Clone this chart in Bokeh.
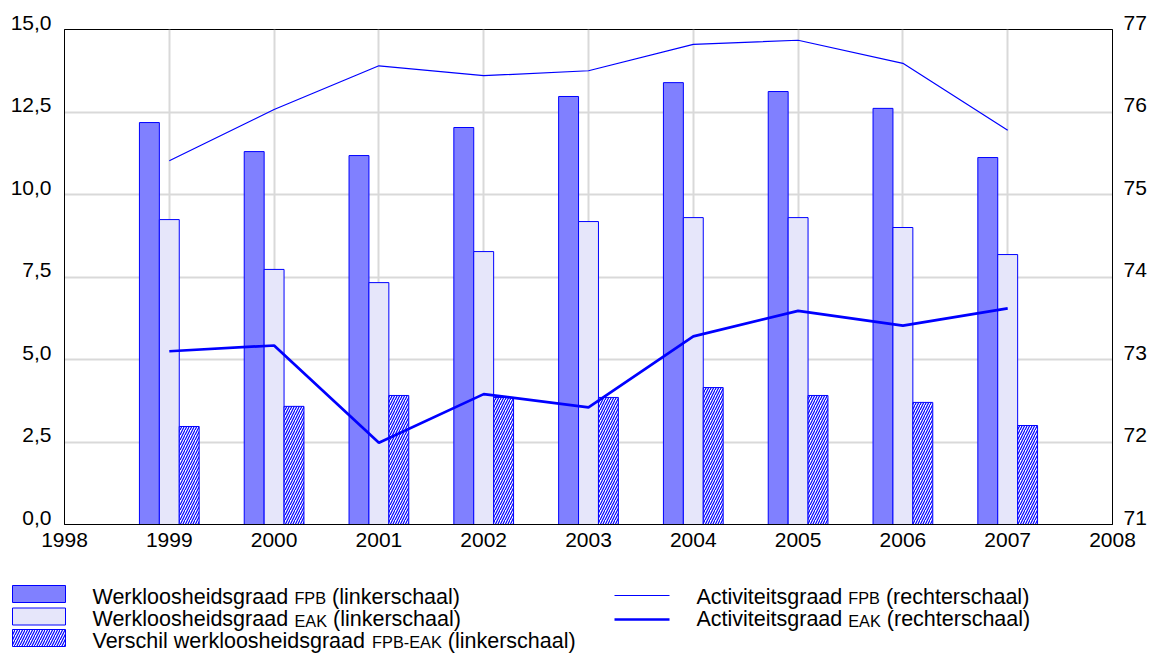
from bokeh.plotting import figure
from bokeh.models import Range1d, LinearAxis, FixedTicker, ColumnDataSource
from bokeh.transform import dodge
from bokeh.core.properties import value
from bokeh.embed import file_html
from bokeh.resources import INLINE

# ---------------- data ----------------
years = [1999, 2000, 2001, 2002, 2003, 2004, 2005, 2006, 2007]
werkloos_fpb = [12.18, 11.30, 11.18, 12.03, 12.97, 13.39, 13.12, 12.61, 11.12]
werkloos_eak = [9.24, 7.73, 7.33, 8.27, 9.18, 9.30, 9.30, 9.00, 8.18]
verschil = [2.97, 3.58, 3.91, 3.85, 3.85, 4.15, 3.91, 3.70, 3.00]
activiteit_fpb = [75.41, 76.03, 76.56, 76.44, 76.50, 76.82, 76.87, 76.59, 75.78]
activiteit_eak = [73.10, 73.17, 71.99, 72.58, 72.42, 73.28, 73.59, 73.41, 73.62]

x_ticks = [1998, 1999, 2000, 2001, 2002, 2003, 2004, 2005, 2006, 2007, 2008]
x_tick_labels = ["1998", "1999", "2000", "2001", "2002", "2003", "2004", "2005", "2006", "2007", "2008"]
left_ticks = [0.0, 2.5, 5.0, 7.5, 10.0, 12.5, 15.0]
left_tick_labels = ["0,0", "2,5", "5,0", "7,5", "10,0", "12,5", "15,0"]
right_ticks = [71, 72, 73, 74, 75, 76, 77]
right_tick_labels = ["71", "72", "73", "74", "75", "76", "77"]

legend_left = [
    [("Werkloosheidsgraad", False), ("FPB", True), ("(linkerschaal)", False)],
    [("Werkloosheidsgraad", False), ("EAK", True), ("(linkerschaal)", False)],
    [("Verschil werkloosheidsgraad", False), ("FPB-EAK", True), ("(linkerschaal)", False)],
]
legend_right = [
    [("Activiteitsgraad", False), ("FPB", True), ("(rechterschaal)", False)],
    [("Activiteitsgraad", False), ("EAK", True), ("(rechterschaal)", False)],
]

# ---------------- style ----------------
FONT = "Liberation Sans"
FS = 21
FS_LEG = 21.5
FS_SMALL = 16.3
BLUE = "#0000FF"
FILL_FPB = "#8080FF"
FILL_EAK = "#E6E6FA"
GRID = "#D9D9D9"
BW = 0.19

src = ColumnDataSource(dict(year=years, fpb=werkloos_fpb, eak=werkloos_eak, diff=verschil,
                            afpb=activiteit_fpb, aeak=activiteit_eak))

p = figure(frame_width=1048, frame_height=495,
           x_range=Range1d(1998, 2008), y_range=Range1d(0, 15),
           output_backend="svg", toolbar_location=None,
           min_border_left=64, min_border_right=45, min_border_top=29, min_border_bottom=46,
           outline_line_color="black", outline_line_width=1)
p.extra_y_ranges = {"right": Range1d(71, 77)}

# grid
p.xgrid.ticker = FixedTicker(ticks=x_ticks)
p.ygrid.ticker = FixedTicker(ticks=left_ticks)
for g in (p.xgrid, p.ygrid):
    g.grid_line_color = GRID
    g.grid_line_width = 2

def style_axis(ax):
    ax.major_tick_line_color = None
    ax.minor_tick_line_color = None
    ax.major_tick_in = 0
    ax.major_tick_out = 0
    ax.minor_tick_in = 0
    ax.minor_tick_out = 0
    ax.axis_line_color = "black"
    ax.axis_line_width = 1
    ax.major_label_text_font = FONT
    ax.major_label_text_font_size = f"{FS}px"
    ax.major_label_text_color = "black"

xa = p.xaxis[0]
xa.ticker = FixedTicker(ticks=x_ticks)
xa.major_label_overrides = {t: l for t, l in zip(x_ticks, x_tick_labels)}
style_axis(xa)
xa.major_label_standoff = 8

# y axes: the reference puts each label's baseline on its gridline; an empty
# second line with a tight line height lifts the (middle-aligned) label accordingly
ya = p.yaxis[0]
ya.ticker = FixedTicker(ticks=left_ticks)
ya.major_label_overrides = {t: l + "\n" for t, l in zip(left_ticks, left_tick_labels)}
style_axis(ya)
ya.major_label_text_line_height = 0.62
ya.major_label_standoff = 13

ra = LinearAxis(y_range_name="right", ticker=FixedTicker(ticks=right_ticks))
ra.major_label_overrides = {t: l + "\n" for t, l in zip(right_ticks, right_tick_labels)}
style_axis(ra)
ra.major_label_text_line_height = 0.62
ra.major_label_standoff = 11
p.add_layout(ra, "right")

# bars
p.vbar(x=dodge("year", -BW, range=p.x_range), top="fpb", width=BW, source=src,
       fill_color=FILL_FPB, line_color=BLUE, line_width=1)
p.vbar(x=dodge("year", 0, range=p.x_range), top="eak", width=BW, source=src,
       fill_color=FILL_EAK, line_color=BLUE, line_width=1)
p.vbar(x=dodge("year", BW, range=p.x_range), top="diff", width=BW, source=src,
       fill_color="white", line_color=BLUE, line_width=1,
       hatch_pattern="/", hatch_color=BLUE, hatch_scale=5, hatch_weight=1.2)

# lines
p.line(x="year", y="afpb", source=src, y_range_name="right", line_color=BLUE, line_width=1.2)
p.line(x="year", y="aeak", source=src, y_range_name="right", line_color=BLUE, line_width=2.7)

# ---------------- legend (separate figure, coordinates = page pixels) ----------------
lg = figure(frame_width=1157, frame_height=83, x_range=Range1d(0, 1157), y_range=Range1d(653, 570),
            output_backend="svg", toolbar_location=None, x_axis_type=None, y_axis_type=None,
            min_border=0, outline_line_color=None)
lg.xgrid.visible = False
lg.ygrid.visible = False

W = {" ": 278, "(": 333, ")": 333, "-": 333, "A": 667, "B": 667, "E": 667, "F": 611, "K": 667,
     "P": 667, "V": 667, "W": 944, "a": 556, "c": 500, "d": 556, "e": 556, "g": 556, "h": 556,
     "i": 222, "k": 500, "l": 222, "n": 556, "o": 556, "r": 333, "s": 500, "t": 278, "v": 500,
     "w": 722}

def tw(s, size):
    return sum(W.get(c, 556) for c in s) * size / 1000.0

def layout_row(pieces, x0, y):
    big = dict(x=[], y=[], t=[])
    small = dict(x=[], y=[], t=[])
    x = x0
    for txt, sc in pieces:
        d = small if sc else big
        d["x"].append(x); d["y"].append(y); d["t"].append(txt)
        x += tw(txt, FS_SMALL if sc else FS_LEG)
        x += tw(" ", FS_LEG)
    return big, small

centers = [596, 618.5, 640]        # vertical centre of the capitals of each row
BIG = dict(x=[], y=[], t=[])
SMALL = dict(x=[], y=[], t=[])
for rows, x0 in ((legend_left, 92), (legend_right, 696)):
    for row, yc in zip(rows, centers):
        b, s = layout_row(row, x0, yc)
        for k in BIG:
            BIG[k] += b[k]
            SMALL[k] += s[k]

lg.text(x=BIG["x"], y=BIG["y"], text=BIG["t"], text_font=value(FONT), text_font_size=f"{FS_LEG}px",
        text_baseline="middle", text_align="left", text_color="black")
lg.text(x=SMALL["x"], y=[v + 1.5 for v in SMALL["y"]], text=SMALL["t"], text_font=value(FONT),
        text_font_size=f"{FS_SMALL}px", text_baseline="middle", text_align="left", text_color="black")

sw_l, sw_r = 12, 65
tops = [c - 11 for c in centers]
bots = [c + 6 for c in centers]
lg.quad(left=[sw_l], right=[sw_r], top=[tops[0]], bottom=[bots[0]], fill_color=FILL_FPB, line_color=BLUE, line_width=1)
lg.quad(left=[sw_l], right=[sw_r], top=[tops[1]], bottom=[bots[1]], fill_color=FILL_EAK, line_color=BLUE, line_width=1)
lg.quad(left=[sw_l], right=[sw_r], top=[tops[2]], bottom=[bots[2]], fill_color="white", line_color=BLUE, line_width=1,
        hatch_pattern="/", hatch_color=BLUE, hatch_scale=5, hatch_weight=1.2)

lg.segment(x0=[614], y0=[centers[0] - 1], x1=[669], y1=[centers[0] - 1], line_color=BLUE, line_width=1.2)
lg.segment(x0=[614], y0=[centers[1] + 0.5], x1=[669], y1=[centers[1] + 0.5], line_color=BLUE, line_width=2.7)

open("out.html", "w").write(file_html([p, lg], INLINE))
